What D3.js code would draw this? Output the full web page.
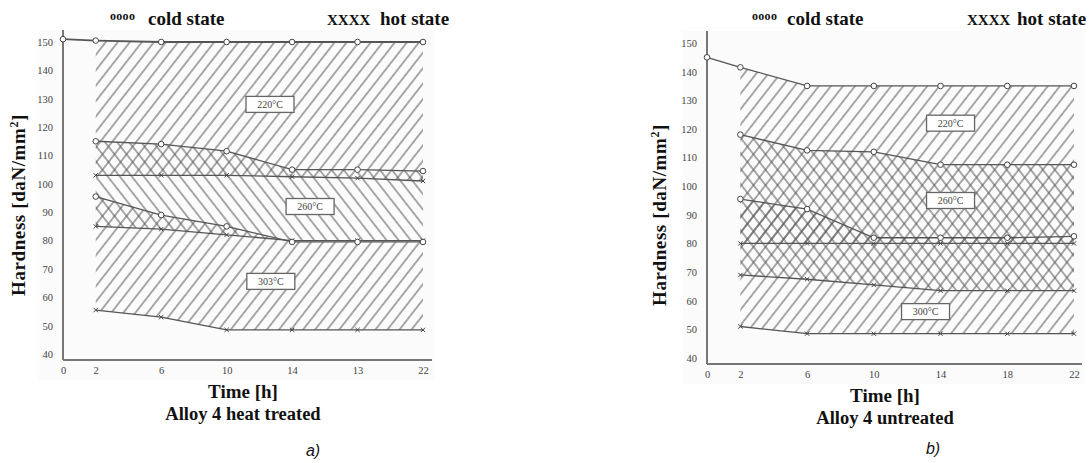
<!DOCTYPE html>
<html><head><meta charset="utf-8">
<script src="https://cdn.jsdelivr.net/npm/d3@7"></script>
<style>body{margin:0;background:#fff}</style>
</head><body><svg id="c" width="1090" height="463"></svg>
<script>
// ---------- data ----------
const hours = [0, 2, 6, 10, 14, 18, 22];
const hoursZone = [2, 6, 10, 14, 18, 22];
const xTickLabelsA = ["0", "2", "6", "10", "14", "13", "22"];
const xTickLabelsB = ["0", "2", "6", "10", "14", "18", "22"];
const yTicks = [40, 50, 60, 70, 80, 90, 100, 110, 120, 130, 140, 150];

// a) Alloy 4 heat treated
const aCold220 = [151, 150.5, 150, 150, 150, 150, 150];   // at hours
const aHot220  = [103, 103, 103, 102.5, 102, 101];        // at hoursZone
const aCold260 = [115, 114, 111.5, 105, 105, 104.5];
const aHot260  = [85, 84, 82, 80, 80, 80];
const aCold300 = [95.5, 89, 85, 79.5, 79.5, 79.5];
const aHot300  = [55.5, 53, 48.5, 48.5, 48.5, 48.5];
const aLabels  = ["220°C", "260°C", "303°C"];
const aLabelH  = [12.65, 15.1, 12.7];
const aLabelV  = [128, 92, 65.6];

// b) Alloy 4 untreated
const bCold220 = [145, 141.5, 135, 135, 135, 135, 135];   // at hours
const bHot220  = [80, 80, 80, 80, 80, 80];
const bCold260 = [118, 112.5, 112, 107.5, 107.5, 107.5];
const bHot260  = [69, 67.5, 65.5, 63.5, 63.5, 63.5];
const bCold300 = [95.5, 92, 82, 82, 82, 82.5];
const bHot300  = [51, 48.5, 48.5, 48.5, 48.5, 48.5];
const bLabels  = ["220°C", "260°C", "300°C"];
const bLabelH  = [14.6, 14.6, 13.1];
const bLabelV  = [122, 95, 56.2];

// ---------- drawing ----------
const svg = d3.select("#c");
const defs = svg.append("defs");
function hatch(id, angle) {
  const p = defs.append("pattern").attr("id", id)
    .attr("patternUnits", "userSpaceOnUse").attr("width", 9.5).attr("height", 10)
    .attr("patternTransform", `rotate(${angle})`);
  p.append("line").attr("x1", 4.75).attr("x2", 4.75).attr("y1", -1).attr("y2", 11)
    .attr("stroke", "#555").attr("stroke-width", 1);
}
hatch("fwd", 38);
hatch("bwd", -38);

const serif = "'Liberation Serif','Times New Roman',serif";

function panel(p) {
  const g = svg.append("g");
  const x = d3.scaleLinear().domain([0, 22]).range([p.x0, p.x1]);
  const y = d3.scaleLinear().domain([40, 150]).range([p.y40, p.y150]);

  g.append("rect").attr("x", p.x0 - 24).attr("y", p.y150 - 12)
    .attr("width", p.axisEnd - p.x0 + 26).attr("height", p.y40 - p.y150 + 38).attr("fill", "#fbfbfb");

  // hatched zones
  p.zones.forEach(z => {
    const pts = hoursZone.map((h, i) => [x(h), y(z.top[i])])
      .concat(hoursZone.map((h, i) => [x(h), y(z.bottom[i])]).reverse());
    g.append("path").attr("d", d3.line()(pts) + "Z").attr("fill", `url(#${z.pat})`);
  });

  // axes
  const baseY = y(37.9);
  g.append("line").attr("x1", p.x0).attr("x2", p.x0).attr("y1", p.y150 - 12).attr("y2", baseY)
    .attr("stroke", "#777").attr("stroke-width", 2);
  g.append("line").attr("x1", p.x0).attr("x2", p.axisEnd).attr("y1", baseY).attr("y2", baseY)
    .attr("stroke", "#777").attr("stroke-width", 2);

  const ya = g.append("g").attr("transform", `translate(${p.x0},0)`)
    .call(d3.axisLeft(y).tickValues(yTicks).tickSize(0).tickPadding(10));
  ya.select(".domain").remove();
  ya.selectAll("text").attr("font-family", serif).attr("font-size", 10.5).attr("fill", "#444");

  const xa = g.append("g").attr("transform", `translate(0,${baseY + 7})`)
    .call(d3.axisBottom(x).tickValues(hours).tickSize(0).tickPadding(0)
      .tickFormat((d, i) => p.xLabels[i]));
  xa.select(".domain").remove();
  xa.selectAll("text").attr("font-family", serif).attr("font-size", 10.5).attr("fill", "#444");

  // series lines
  const line = d3.line().x(d => x(d[0])).y(d => y(d[1]));
  p.series.forEach(s => {
    const pts = s.h.map((h, i) => [h, s.v[i]]);
    g.append("path").attr("d", line(pts)).attr("fill", "none")
      .attr("stroke", "#555").attr("stroke-width", s.w || 1.3);
    if (s.cold) {
      g.selectAll(null).data(pts).enter().append("circle")
        .attr("cx", d => x(d[0])).attr("cy", d => y(d[1])).attr("r", 2.8)
        .attr("fill", "#fff").attr("stroke", "#444").attr("stroke-width", 1);
    } else {
      g.selectAll(null).data(pts).enter().append("path")
        .attr("d", d3.symbol().type(d3.symbolX).size(14))
        .attr("transform", d => `translate(${x(d[0])},${y(d[1])})`)
        .attr("fill", "none").attr("stroke", "#444").attr("stroke-width", 1);
    }
  });

  // temperature labels
  p.labels.forEach((t, i) => {
    const cx = x(p.labelH[i]), cy = y(p.labelV[i]);
    g.append("rect").attr("x", cx - 24).attr("y", cy - 8).attr("width", 48).attr("height", 16)
      .attr("fill", "#fff").attr("stroke", "#666").attr("stroke-width", 1.3);
    g.append("text").attr("x", cx).attr("y", cy + 3.5).attr("text-anchor", "middle")
      .attr("font-family", serif).attr("font-size", 10).attr("fill", "#444").text(t);
  });

  // legend
  const lg = g.append("g").attr("font-family", serif).attr("font-weight", "bold").attr("fill", "#111");
  lg.append("text").attr("x", p.leg[0]).attr("y", 20).attr("font-size", 12)
    .attr("letter-spacing", 0.3).text("oooo");
  lg.append("text").attr("x", p.leg[1]).attr("y", 25).attr("font-size", 19).text("cold state");
  lg.append("text").attr("x", p.leg[2]).attr("y", 25).attr("font-size", 15).text("XXXX");
  lg.append("text").attr("x", p.leg[3]).attr("y", 25).attr("font-size", 19).text("hot state");

  // titles
  g.append("text").attr("transform", `translate(${p.yTitleX},${p.yTitleY}) rotate(-90)`)
    .attr("text-anchor", "middle").attr("font-family", serif).attr("font-weight", "bold")
    .attr("font-size", 19).attr("letter-spacing", 0.6).attr("fill", "#111")
    .html('Hardness [daN/mm<tspan dy="-7" font-size="12">2</tspan><tspan dy="7">]</tspan>');
  g.append("text").attr("x", p.titleX).attr("y", p.timeY).attr("text-anchor", "middle")
    .attr("font-family", serif).attr("font-weight", "bold").attr("font-size", 19).attr("fill", "#111")
    .text("Time [h]");
  g.append("text").attr("x", p.titleX).attr("y", p.alloyY).attr("text-anchor", "middle")
    .attr("font-family", serif).attr("font-weight", "bold").attr("font-size", 18.5).attr("fill", "#111")
    .text(p.alloy);
  g.append("text").attr("x", p.tagX).attr("y", p.tagY).attr("text-anchor", "middle")
    .attr("font-family", "'Liberation Sans',Arial,sans-serif").attr("font-style", "italic")
    .attr("font-size", 16).attr("fill", "#111").text(p.tag);
}

panel({
  x0: 63, x1: 423, axisEnd: 432, y40: 354, y150: 42,
  xLabels: xTickLabelsA,
  zones: [
    { top: aCold220.slice(1), bottom: aHot220, pat: "fwd" },
    { top: aCold260, bottom: aHot260, pat: "bwd" },
    { top: aCold300, bottom: aHot300, pat: "fwd" }
  ],
  series: [
    { h: hours, v: aCold220, cold: true, w: 1.8 },
    { h: hoursZone, v: aHot220 },
    { h: hoursZone, v: aCold260, cold: true },
    { h: hoursZone, v: aHot260 },
    { h: hoursZone, v: aCold300, cold: true },
    { h: hoursZone, v: aHot300 }
  ],
  labels: aLabels, labelH: aLabelH, labelV: aLabelV,
  leg: [110, 148, 327, 380],
  yTitleX: 25, yTitleY: 205, titleX: 243, timeY: 398, alloyY: 420,
  alloy: "Alloy 4 heat treated", tag: "a)", tagX: 313, tagY: 456
});

panel({
  x0: 707, x1: 1074, axisEnd: 1082, y40: 358, y150: 43,
  xLabels: xTickLabelsB,
  zones: [
    { top: bCold220.slice(1), bottom: bHot220, pat: "fwd" },
    { top: bCold260, bottom: bHot260, pat: "bwd" },
    { top: bCold300, bottom: bHot300, pat: "fwd" }
  ],
  series: [
    { h: hours, v: bCold220, cold: true },
    { h: hoursZone, v: bHot220 },
    { h: hoursZone, v: bCold260, cold: true },
    { h: hoursZone, v: bHot260 },
    { h: hoursZone, v: bCold300, cold: true },
    { h: hoursZone, v: bHot300 }
  ],
  labels: bLabels, labelH: bLabelH, labelV: bLabelV,
  leg: [752, 787, 967, 1017],
  yTitleX: 666, yTitleY: 215, titleX: 885, timeY: 402, alloyY: 424,
  alloy: "Alloy 4 untreated", tag: "b)", tagX: 933, tagY: 454
});
</script></body></html>
